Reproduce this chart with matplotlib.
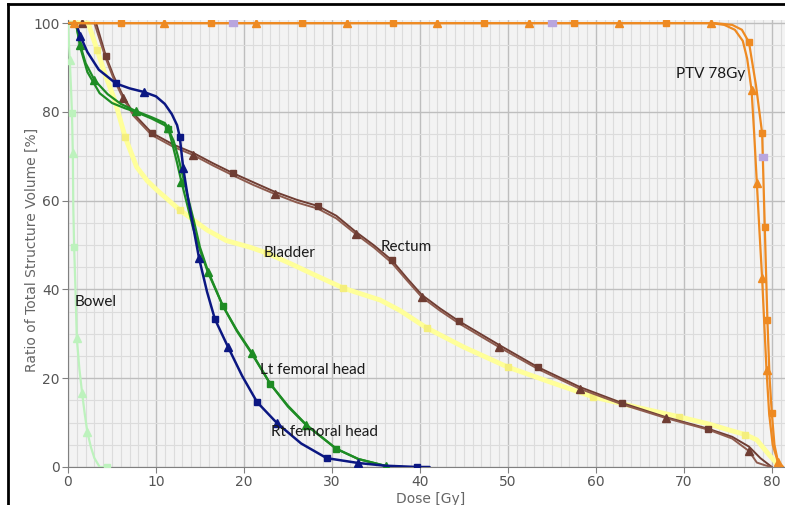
import matplotlib
matplotlib.use('Agg')
import matplotlib.pyplot as plt
from matplotlib.ticker import MultipleLocator
from matplotlib.lines import Line2D

# ---------------- data (dose [Gy], volume [%]) ----------------
ptv_sq_dose = [0, 6.0, 16.3, 26.6, 36.9, 47.3, 57.5, 68.0, 73.5, 75.5, 76.6, 77.4, 78.2, 78.9,
               79.2, 79.5, 79.75, 80.0, 80.3, 80.7, 81.3]
ptv_sq_vol = [100, 100, 100, 100, 100, 100, 100, 100, 100, 99.6, 98.5, 95.7, 86, 75.2,
              54.1, 33.1, 20, 12.2, 5, 1.2, 0]
ptv_sq_marks = [1, 2, 3, 4, 5, 6, 7, 11, 13, 14, 15, 17]

ptv_tri_dose = [0, 0.7, 10.9, 21.4, 31.7, 42.0, 52.4, 62.6, 73.1, 74.6, 75.8, 76.7, 77.2, 77.7,
                78.0, 78.3, 78.6, 78.9, 79.15, 79.4, 79.7, 80.1, 80.7, 81.1]
ptv_tri_vol = [100, 100, 100, 100, 100, 100, 100, 100, 100, 99.6, 98.5, 96, 92, 84.9,
               75, 64, 53, 42.5, 32, 21.8, 12, 5, 1.1, 0]
ptv_tri_marks = [1, 2, 3, 4, 5, 6, 7, 8, 13, 15, 17, 19, 22]

lav_dose = [18.8, 55.0, 79.0]
lav_vol = [100, 100, 69.8]

rect_a_dose = [0, 3.2, 4.3, 5.2, 6.25, 7.5, 9.5, 12.0, 14.2, 16.5, 18.75, 21.0, 23.5, 26.0, 28.4,
               30.5, 32.7, 34.8, 36.8, 38.5, 40.2, 42.3, 44.4, 49.0, 53.4, 58.2, 63.0, 68.0, 72.8,
               75.5, 77.4, 78.7, 80.0]
rect_a_vol = [100, 100, 92.6, 88.0, 83.6, 79.5, 75.3, 72.6, 70.8, 68.4, 66.2, 64.2, 62.0, 60.2, 58.8,
              56.6, 53.0, 49.9, 46.6, 42.6, 38.8, 35.7, 32.9, 27.5, 22.5, 18.0, 14.4, 11.2, 8.6,
              6.8, 4.6, 2.0, 0]
rect_a_marks = [2, 6, 10, 14, 18, 22, 24, 26, 28]

rect_b_dose = [0, 1.6, 3.0, 4.3, 5.2, 6.25, 7.5, 9.5, 12.0, 14.2, 16.5, 18.75, 21.0, 23.5, 26.0,
               28.4, 30.5, 32.7, 34.8, 36.8, 38.5, 40.2, 42.3, 44.4, 49.0, 53.4, 58.2, 63.0, 68.0,
               72.8, 75.5, 77.4, 78.3, 79.2, 80.0]
rect_b_vol = [100, 100, 100, 92.0, 87.4, 83.1, 79.0, 74.8, 72.1, 70.3, 67.9, 65.7, 63.6, 61.5, 59.6,
              58.2, 56.0, 52.5, 49.4, 46.0, 42.1, 38.3, 35.2, 32.4, 27.0, 22.1, 17.6, 14.1, 11.0,
              8.4, 6.4, 3.6, 1.0, 0.4, 0]
rect_b_marks = [1, 5, 9, 13, 17, 21, 24, 26, 28, 31]

bladder_dose = [0, 2.3, 3.3, 4.3, 5.3, 6.5, 7.8, 9.0, 10.1, 12.7, 15.8, 18.0, 20.7, 22.6, 25.2,
                28.0, 31.3, 35.5, 37.7, 40.8, 45.0, 50.0, 55.0, 59.7, 65.0, 69.5, 73.0, 75.2,
                77.0, 78.3, 79.5, 80.9]
bladder_vol = [100, 100, 94, 88, 82.7, 74.3, 67.6, 64.5, 62.4, 57.9, 53.4, 51.0, 49.5, 48.2, 45.9,
               43.3, 40.3, 37.6, 35.3, 31.3, 27.0, 22.5, 19.0, 15.8, 13.3, 11.3, 9.6, 8.3,
               7.3, 6.1, 3.2, 0]
bladder_marks = [2, 5, 9, 13, 16, 19, 21, 23, 25, 28]

lt_a_dose = [0, 0.9, 1.4, 2.0, 3.0, 4.5, 6.0, 7.7, 9.5, 11.0, 11.4, 11.9, 12.4, 12.9, 13.5, 14.2,
             15.0, 15.9, 17.6, 19.2, 20.9, 23.0, 25.0, 27.1, 30.5, 33.0, 36.2, 38.0]
lt_a_vol = [100, 100, 95.0, 91.0, 87.2, 84.0, 81.8, 80.2, 78.8, 77.5, 76.3, 72.5, 68.5, 64.2, 59.5,
            54.0, 48.9, 43.9, 36.3, 30.8, 25.7, 18.7, 13.8, 9.5, 4.1, 1.8, 0.2, 0]
lt_a_marks = [2, 4, 7, 10, 13, 17, 20, 23, 26]

lt_b_dose = [0, 0.9, 1.4, 2.2, 3.6, 5.0, 6.5, 7.7, 9.5, 11.0, 11.4, 12.0, 12.5, 13.0, 13.6, 14.3,
             15.0, 15.9, 17.6, 19.2, 20.9, 23.0, 25.0, 27.1, 30.5, 33.0, 36.2, 38.0]
lt_b_vol = [100, 100, 94.5, 89.0, 84.2, 82.0, 80.8, 80.0, 78.5, 77.0, 76.1, 73.5, 70.0, 66.0, 61.0,
            55.5, 49.5, 44.2, 36.3, 30.6, 25.5, 18.7, 13.6, 9.4, 4.1, 1.8, 0.2, 0]
lt_b_marks = [10, 18, 21, 24]

rt_dose = [0, 0.9, 1.4, 2.2, 3.5, 5.45, 7.0, 8.6, 10.0, 11.0, 11.8, 12.4, 12.7, 13.1, 13.6, 14.2,
           14.9, 15.8, 16.7, 18.2, 19.8, 21.5, 23.75, 26.5, 29.4, 33.0, 36.0, 39.7, 41.1]
rt_vol = [100, 100, 97.1, 93.5, 89.5, 86.4, 85.3, 84.5, 83.5, 81.8, 79.5, 77.0, 74.4, 67.3, 61.0,
          54.5, 47.0, 39.5, 33.3, 27.0, 20.5, 14.6, 9.9, 5.3, 2.0, 0.9, 0.3, 0, 0]
rt_tri_marks = [2, 7, 13, 16, 19, 22, 25]
rt_sq_marks = [5, 12, 18, 21, 24, 27]

bowel_dose = [0, 0.2, 0.35, 0.45, 0.55, 0.6, 0.7, 0.85, 1.0, 1.3, 1.6, 1.9, 2.2, 2.6, 3.0, 3.6, 4.4]
bowel_vol = [100, 91.7, 85.0, 79.7, 70.7, 58.6, 49.5, 40.0, 29.0, 22.0, 16.7, 12.0, 7.9, 4.5, 2.0, 0, 0]
bowel_tri_marks = [1, 4, 8, 10, 12]
bowel_sq_marks = [3, 6, 16]

labels = ["Bowel", "Bladder", "Rectum", "PTV 78Gy", "Lt femoral head", "Rt femoral head"]
label_x = [0.7, 22.2, 35.5, 69.1, 21.8, 23.1]
label_y = [37.2, 48.2, 49.5, 88.5, 21.8, 7.9]

x_ticks = [0, 10, 20, 30, 40, 50, 60, 70, 80]
y_ticks = [0, 20, 40, 60, 80, 100]

# ---------------- colours ----------------
C_PTV = '#EE8A22'
C_RECT_A = '#6F3D33'
C_RECT_B = '#8E5B4E'
C_BLAD = '#FFFF99'
C_BLAD_M = '#F4EE7C'
C_LT = '#1E8C24'
C_RT = '#0B1782'
C_BOWEL = '#BDF2BD'
C_LAV = '#B9A6DE'

fig = plt.figure(figsize=(7.85, 5.05), dpi=100)
ax = fig.add_axes([68 / 785, 38 / 505, 717 / 785, 447 / 505])
ax.set_xlim(0, 81.5)
ax.set_ylim(0, 100.7)
ax.set_facecolor('#F3F3F3')

ax.xaxis.set_major_locator(MultipleLocator(10))
ax.xaxis.set_minor_locator(MultipleLocator(1))
ax.yaxis.set_major_locator(MultipleLocator(20))
ax.yaxis.set_minor_locator(MultipleLocator(5))
ax.set_xticks(x_ticks)
ax.set_yticks(y_ticks)
ax.grid(which='major', color='#BEBEBE', lw=1.0)
ax.grid(which='minor', color='#DCDCDC', lw=0.8)
ax.set_axisbelow(True)
for s in ['top', 'right']:
    ax.spines[s].set_visible(False)
for s in ['left', 'bottom']:
    ax.spines[s].set_color('#808080')
ax.tick_params(which='minor', length=0)
ax.tick_params(which='major', length=4, color='#808080', labelcolor='#555555',
               labelsize=10, pad=2)

ax.set_ylabel('Ratio of Total Structure Volume [%]', color='#666666', fontsize=10)
ax.yaxis.set_label_coords(-0.040, 0.485)
ax.set_xlabel('Dose [Gy]', color='#666666', fontsize=10)
ax.xaxis.set_label_coords(0.506, -0.056)


def curve(d, v, color, lw, z, marks_sq=None, marks_tri=None, mcol=None, ms_sq=4.0, ms_tri=5.5):
    mcol = mcol or color
    ax.plot(d, v, color=color, lw=lw, zorder=z, solid_capstyle='round')
    if marks_sq:
        ax.plot(d, v, ls='none', marker='s', ms=ms_sq, color=mcol, markeredgecolor=mcol,
                markevery=marks_sq, zorder=z + 0.1)
    if marks_tri:
        ax.plot(d, v, ls='none', marker='^', ms=ms_tri, color=mcol, markeredgecolor=mcol,
                markevery=marks_tri, zorder=z + 0.1)


# bladder (pale yellow, thick)
curve(bladder_dose, bladder_vol, C_BLAD, 3.5, 2, marks_sq=bladder_marks, mcol=C_BLAD_M, ms_sq=4.5)
# rectum (double brown line)
curve(rect_a_dose, rect_a_vol, C_RECT_A, 1.4, 3, marks_sq=rect_a_marks)
curve(rect_b_dose, rect_b_vol, C_RECT_B, 1.4, 3, marks_tri=rect_b_marks, mcol=C_RECT_A)
# bowel
curve(bowel_dose, bowel_vol, C_BOWEL, 1.6, 3, marks_sq=bowel_sq_marks, marks_tri=bowel_tri_marks)
# femoral heads
curve(lt_b_dose, lt_b_vol, C_LT, 1.6, 4, marks_sq=lt_b_marks)
curve(lt_a_dose, lt_a_vol, C_LT, 1.6, 4, marks_tri=lt_a_marks)
curve(rt_dose, rt_vol, C_RT, 1.8, 5, marks_sq=rt_sq_marks, marks_tri=rt_tri_marks)
# PTV
curve(ptv_sq_dose, ptv_sq_vol, C_PTV, 1.6, 6, marks_sq=ptv_sq_marks)
curve(ptv_tri_dose, ptv_tri_vol, C_PTV, 1.6, 6, marks_tri=ptv_tri_marks)
ax.plot(lav_dose, lav_vol, ls='none', marker='$\\equiv$', ms=6, color=C_LAV, zorder=7)

for t, x, y in zip(labels, label_x, label_y):
    ax.text(x, y, t, fontsize=11, family=['Lato', 'DejaVu Sans'], color='#1a1a1a',
            ha='left', va='center', zorder=8)

# screenshot frame (left and top black borders)
fig.add_artist(Line2D([8 / 785, 8 / 785], [0, 1 - 4 / 505], transform=fig.transFigure,
                      color='black', lw=2))
fig.add_artist(Line2D([8 / 785, 1], [1 - 4 / 505, 1 - 4 / 505], transform=fig.transFigure,
                      color='black', lw=2))

fig.savefig('out.png', dpi=100)
